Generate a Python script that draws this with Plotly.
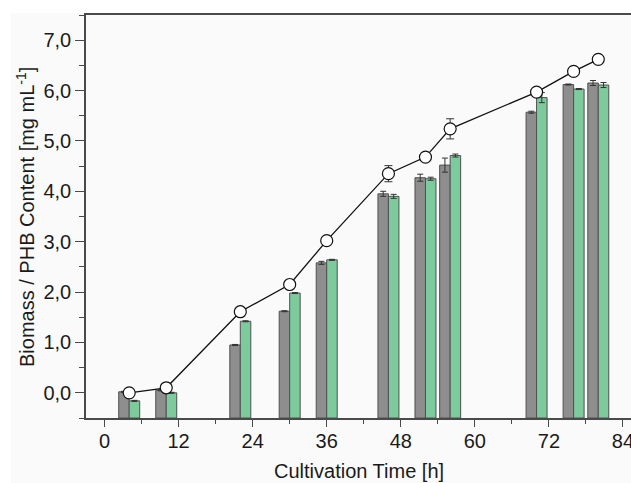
import plotly.graph_objects as go

# ---- data ----
times = [4, 10, 22, 30, 36, 46, 52, 56, 70, 76, 80]
biomass = [0.00, 0.10, 1.61, 2.15, 3.02, 4.35, 4.68, 5.24, 5.97, 6.38, 6.62]
biomass_err = [0.02, 0.02, 0.02, 0.02, 0.02, 0.16, 0.03, 0.20, 0.03, 0.03, 0.05]
gray_vals = [0.02, 0.05, 0.95, 1.62, 2.58, 3.95, 4.27, 4.52, 5.57, 6.12, 6.15]
gray_err = [0.01, 0.01, 0.01, 0.01, 0.03, 0.05, 0.07, 0.14, 0.02, 0.01, 0.05]
green_vals = [-0.16, 0.00, 1.42, 1.98, 2.64, 3.90, 4.25, 4.71, 5.86, 6.03, 6.11]
green_err = [0.01, 0.01, 0.01, 0.01, 0.01, 0.04, 0.03, 0.03, 0.10, 0.01, 0.05]
x_ticks = [0, 12, 24, 36, 48, 60, 72, 84]

BASE = -0.5
BAR_W = 1.7
FONT = "Arial, Liberation Sans, sans-serif"
AXC = "#4a4a4a"

fig = go.Figure()

fig.add_trace(go.Bar(
    x=times, y=[v - BASE for v in gray_vals], base=BASE,
    width=BAR_W, offset=-BAR_W,
    marker=dict(color="#8e8e8e", line=dict(color="#505050", width=1)),
    error_y=dict(type="data", array=gray_err, color="#333333", thickness=1, width=3),
    showlegend=False,
))
fig.add_trace(go.Bar(
    x=times, y=[v - BASE for v in green_vals], base=BASE,
    width=BAR_W, offset=0,
    marker=dict(color="#7dcb9c", line=dict(color="#505050", width=1)),
    error_y=dict(type="data", array=green_err, color="#333333", thickness=1, width=3),
    showlegend=False,
))
fig.add_trace(go.Scatter(
    x=times, y=biomass, mode="lines+markers",
    line=dict(color="#111111", width=1.3),
    marker=dict(symbol="circle", size=12, color="white", line=dict(color="#111111", width=1.2)),
    error_y=dict(type="data", array=biomass_err, color="#333333", thickness=1, width=4),
    showlegend=False,
))

W, H = 631, 483
ml, mr, mt, mb = 86, 0, 15, 65
pw, ph = W - ml - mr, H - mt - mb

def px_x(p):
    return (p - ml) / pw

def px_y(p):
    return (H - mb - p) / ph

fig.update_layout(
    width=W, height=H,
    margin=dict(l=ml, r=mr, t=mt, b=mb, pad=0),
    paper_bgcolor="white",
    plot_bgcolor="rgba(0,0,0,0)",
    barmode="overlay",
    separators=",.",
    font=dict(family=FONT, size=20, color="#1a1a1a"),
    shapes=[dict(type="rect", xref="paper", yref="paper", layer="below",
                 x0=px_x(11), x1=1.0, y0=px_y(H), y1=px_y(13),
                 fillcolor="#fafafa", line=dict(width=0))],
    xaxis=dict(
        range=[-3.0, 85.3], tickvals=x_ticks, ticks="outside", ticklen=7,
        tickwidth=1.3, tickcolor=AXC, showline=True, linecolor=AXC, linewidth=1.5,
        mirror=True, showgrid=False, zeroline=False, automargin=False,
        minor=dict(dtick=6, tick0=0, ticks="outside", ticklen=4, tickwidth=1.3, tickcolor=AXC, showgrid=False),
        tickfont=dict(size=20), ticklabelstandoff=-3, ticklabeloverflow="allow",
    ),
    yaxis=dict(
        range=[-0.5, 7.5], dtick=1, tick0=0, tickformat=".1f", ticks="outside", ticklen=9,
        tickwidth=1.3, tickcolor=AXC, showline=True, linecolor=AXC, linewidth=1.5,
        mirror=False, showgrid=False, zeroline=False, automargin=False,
        minor=dict(dtick=0.5, tick0=0, ticks="outside", ticklen=5, tickwidth=1.3, tickcolor=AXC, showgrid=False),
        tickfont=dict(size=20), ticklabelstandoff=0, ticklabeloverflow="allow",
    ),
    annotations=[
        dict(text="Cultivation Time [h]", xref="paper", yref="paper",
             x=0.5, y=px_y(471), xanchor="center", yanchor="middle",
             showarrow=False, font=dict(size=20)),
        dict(text="Biomass / PHB Content [mg mL<sup>-1</sup>]", xref="paper", yref="paper",
             x=px_x(25), y=px_y(217), xanchor="center", yanchor="middle", textangle=-90,
             showarrow=False, font=dict(size=20)),
    ],
)

fig.write_html(
    "out.html",
    config={"displayModeBar": False},
    post_script="document.body.style.margin='0';document.body.style.overflow='hidden';",
)
